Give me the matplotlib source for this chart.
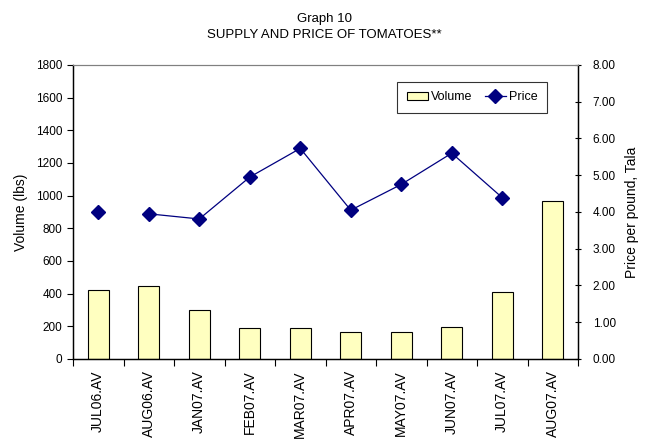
import matplotlib
matplotlib.use("Agg")
import matplotlib.pyplot as plt
import numpy as np

plt.rcParams['font.family'] = ['Liberation Sans', 'DejaVu Sans']

categories = ["JUL06.AV", "AUG06.AV", "JAN07.AV", "FEB07.AV", "MAR07.AV",
              "APR07.AV", "MAY07.AV", "JUN07.AV", "JUL07.AV", "AUG07.AV"]
volume = [420, 445, 302, 190, 188, 163, 167, 196, 410, 967]
price = [4.01, 3.95, 3.81, 4.95, 5.73, 4.05, 4.75, 5.60, 4.39, np.nan]

fig = plt.figure(figsize=(6.49, 4.42), dpi=100)
ax = fig.add_axes([0.1125, 0.1878, 0.7781, 0.6652])
ax2 = ax.twinx()

x = np.arange(len(categories))
bars = ax.bar(x, volume, width=0.41, color='#FFFFC0', edgecolor='black',
              linewidth=0.8, label='Volume', zorder=2)
ax.set_xlim(-0.5, len(categories) - 0.5)
ax.set_ylim(0, 1800)
ax.set_yticks(np.arange(0, 1801, 200))
ax.set_ylabel('Volume (lbs)', fontsize=10, labelpad=6)
ax.set_xticks(x)
ax.set_xticklabels(categories, rotation=90, fontsize=10)
ax.tick_params(axis='x', length=0, pad=8)
ax.set_xticks(np.arange(-0.5, len(categories)), minor=True)
ax.tick_params(axis='x', which='minor', length=5, direction='out', width=0.8)
ax.tick_params(axis='y', labelsize=8.5, length=4, direction='out', width=0.8)

pr = np.array(price)
# first point is isolated (no connecting line), rest connected
ax2.plot(x[0:1], pr[0:1], linestyle='none', marker='D', color='#000080',
         markersize=7)
ln, = ax2.plot(x[1:9], pr[1:9], color='#000080', marker='D', markersize=7,
               linewidth=0.9, label='Price')
ax2.set_ylim(0, 8)
ax2.set_yticks(np.arange(0, 8.01, 1))
ax2.set_yticklabels([f"{v:.2f}" for v in np.arange(0, 8.01, 1)])
ax2.set_ylabel('Price per pound, Tala', fontsize=10, labelpad=7)
ax2.tick_params(axis='y', labelsize=8.5, length=5, direction='inout',
                width=0.8, pad=8)

for a in (ax, ax2):
    a.spines['top'].set_color('#808080')
    a.spines['left'].set_linewidth(0.9)
    a.spines['right'].set_linewidth(0.9)
    a.spines['bottom'].set_linewidth(0.9)

leg = ax2.legend([bars, ln], ['Volume', 'Price'], loc='upper right',
                 bbox_to_anchor=(0.939, 0.942), borderaxespad=0, ncol=2,
                 fontsize=9, frameon=True, fancybox=False, edgecolor='black',
                 handlelength=1.7, columnspacing=1.0, handletextpad=0.25,
                 borderpad=0.75)
leg.get_frame().set_linewidth(0.8)

fig.text(0.5, 0.957, 'Graph 10', ha='center', va='center', fontsize=9.5)
fig.text(0.5, 0.921, 'SUPPLY AND PRICE OF TOMATOES**', ha='center',
         va='center', fontsize=9.5)

fig.savefig('out.png', dpi=100)
